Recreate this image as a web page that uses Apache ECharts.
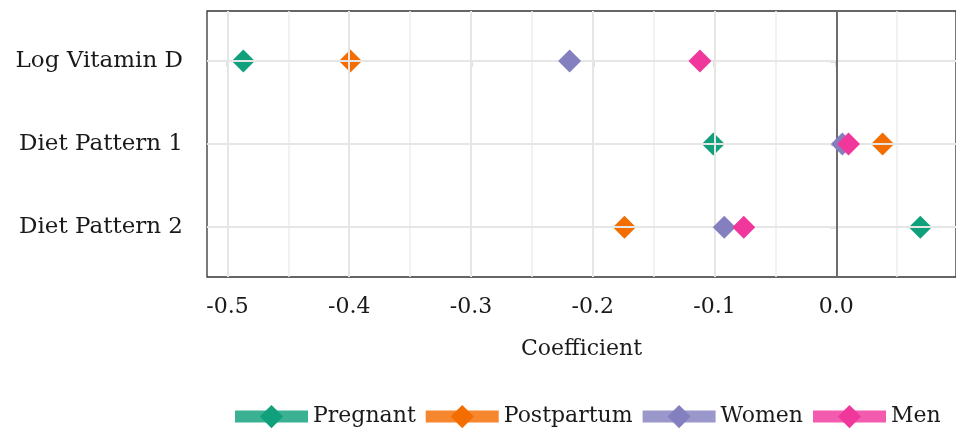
<!DOCTYPE html>
<html>
<head>
<meta charset="utf-8">
<script src="https://cdn.jsdelivr.net/npm/echarts@6/dist/echarts.min.js"></script>
<style>
html,body{margin:0;padding:0;background:#fff;}
#chart{width:956px;height:432px;}
</style>
</head>
<body>
<div id="chart"></div>
<script>
const categories = ['Log Vitamin D', 'Diet Pattern 1', 'Diet Pattern 2'];
const groups = ['Pregnant', 'Postpartum', 'Women', 'Men'];
const pregnant = [-0.487, -0.101, 0.069];
const postpartum = [-0.399, 0.038, -0.174];
const women = [-0.219, 0.005, -0.092];
const men = [-0.112, 0.010, -0.076];
const xMajorTicks = [-0.5, -0.4, -0.3, -0.2, -0.1, 0.0];
const xMinorTicks = [-0.45, -0.35, -0.25, -0.15, -0.05, 0.05];
const yTicks = [0, 1, 2];
const colors = ['#10A07B', '#F46D00', '#8480C0', '#F0389C'];

const FONT = 'DejaVu Serif';
const values = [pregnant, postpartum, women, men];

const chart = echarts.init(document.getElementById('chart'));

const gridLines = [];
xMinorTicks.forEach(v => gridLines.push({xAxis: v, lineStyle: {color: '#EEEEEE', width: 1.5, type: 'solid'}}));
xMajorTicks.forEach(v => gridLines.push({xAxis: v, lineStyle: {color: '#E6E6E6', width: 2, type: 'solid'}}));
yTicks.forEach(v => gridLines.push({yAxis: v, lineStyle: {color: '#E6E6E6', width: 2, type: 'solid'}}));

const series = [{
  name: '_grid',
  type: 'scatter',
  data: [],
  z: 1,
  silent: true,
  markLine: {
    silent: true,
    symbol: 'none',
    label: {show: false},
    animation: false,
    data: gridLines
  }
}, {
  name: '_zero',
  type: 'scatter',
  data: [],
  z: 2,
  silent: true,
  markLine: {
    silent: true,
    symbol: 'none',
    label: {show: false},
    animation: false,
    data: [{xAxis: 0, lineStyle: {color: '#444444', width: 1.5, type: 'solid'}}]
  }
}];

groups.forEach((g, gi) => {
  series.push({
    name: g,
    type: 'line',
    z: 3 + gi,
    data: values[gi].map((v, i) => [v, i]),
    symbol: 'diamond',
    symbolSize: 23,
    showSymbol: true,
    showAllSymbol: true,
    lineStyle: {opacity: 0, width: 0},
    itemStyle: {color: colors[gi], opacity: 1},
    emphasis: {disabled: true},
    animation: false
  });
});

chart.setOption({
  animation: false,
  color: colors,
  grid: {
    left: 207, top: 11, right: -2, bottom: 155,
    show: true, borderColor: '#333333', borderWidth: 1.3,
    containLabel: false
  },
  xAxis: {
    type: 'value',
    min: -0.5168, max: 0.0983,
    name: 'Coefficient',
    nameLocation: 'middle',
    nameGap: 61,
    nameTextStyle: {fontFamily: FONT, fontSize: 22, color: '#1a1a1a'},
    axisLine: {show: false},
    axisTick: {show: true, length: 6, lineStyle: {color: '#333', width: 1.3}, customValues: xMajorTicks},
    axisLabel: {
      customValues: xMajorTicks,
      fontFamily: FONT, fontSize: 22, color: '#1a1a1a', margin: 19,
      formatter: v => Number(v).toFixed(1)
    },
    splitLine: {show: false}
  },
  yAxis: {
    type: 'value',
    inverse: true,
    min: -0.6, max: 2.6,
    axisLine: {show: false},
    axisTick: {show: true, length: 6, lineStyle: {color: '#333', width: 1.3}, customValues: yTicks},
    axisLabel: {
      customValues: yTicks,
      fontFamily: FONT, fontSize: 23, color: '#1a1a1a', margin: 24,
      padding: [3, 0, 0, 0],
      formatter: v => categories[Math.round(v)] || ''
    },
    splitLine: {show: false}
  },
  legend: {
    data: groups,
    left: 229, top: 405, width: 800, padding: 0,
    itemWidth: 73, itemHeight: 29, itemGap: 4,
    textStyle: {fontFamily: FONT, fontSize: 22, color: '#1a1a1a'},
    lineStyle: {width: 12, opacity: 0.82},
    selectedMode: false
  },
  series: series
});
</script>
</body>
</html>
